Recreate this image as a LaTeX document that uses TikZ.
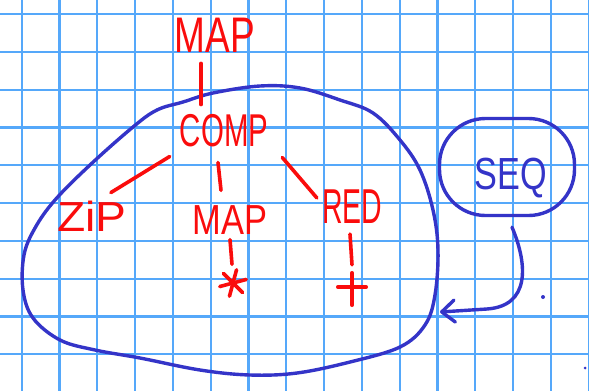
\documentclass[tikz,border=0pt]{standalone}
\usepackage{fontspec}
\usepackage{tikz}
\usetikzlibrary{arrows.meta}
\newfontfamily\handfont{Liberation Sans}
\definecolor{gridblue}{RGB}{85,168,250}
\definecolor{inkred}{RGB}{250,12,12}
\definecolor{inkblue}{RGB}{52,52,200}

\begin{document}
\begin{tikzpicture}[x=1pt,y=-1pt,
  gridline/.style={gridblue,line width=2.2pt},
  redink/.style={inkred,line width=3.6pt,line cap=round},
  blueink/.style={inkblue,line width=3.4pt,line cap=round,line join=round},
  word/.style={text=inkred,inner sep=0pt,font=\handfont\fontsize{#1}{#1}\selectfont}]
  \fill[white] (0,0) rectangle (589,391);
  \useasboundingbox (0,0) rectangle (589,391);
  % squared paper
  \foreach \i in {0,...,15} \draw[gridline] ({21.7+37.8*\i},0) -- ++(0,391);
  \foreach \j in {0,...,9} \draw[gridline] (0,{14+37.8*\j}) -- ++(589,0);

  % the big blob
  \draw[blueink] plot[smooth cycle,tension=0.6] coordinates {
    (157,110) (183,102) (213,93) (260,86) (300,88) (340,100) (373,113)
    (400,140) (420,170) (433,210) (438,250) (435,295) (425,325) (400,347)
    (350,362) (297,373) (250,375) (200,370) (140,358) (95,350) (60,340)
    (33,318) (23,290) (24,255) (35,228) (55,200) (90,165) (133,127)};
  \coordinate (blobr) at (440,312);

  % the tree
  \node[word=50,xscale=0.74] (map1) at (215,35) {MAP};
  \node[word=46,xscale=0.64] (comp) at (224,131) {COMP};
  \node[word=42,xscale=1.1] (zip) at (92,216) {ZiP};
  \node[word=42,xscale=0.82] (map2) at (230,220) {MAP};
  \node[word=49,xscale=0.58] (red) at (352,207) {RED};
  \node[circle,inner sep=0pt,minimum size=27pt] (ast) at (233,283) {};
  \node[inner sep=0pt,minimum width=28pt,minimum height=32pt] (plus) at (352,289) {};

  \draw[redink] ([xshift=-14pt,yshift=-11pt]map1.south) -- ([xshift=-23pt,yshift=10pt]comp.north);
  \draw[redink] ([xshift=-10pt,yshift=-9pt]comp.south west) -- ([xshift=-16pt,yshift=8pt]zip.north east);
  \draw[redink] ([xshift=-6pt,yshift=-15pt]comp.south) -- ([xshift=-9pt,yshift=15pt]map2.north);
  \draw[redink] ([xshift=14pt,yshift=-10pt]comp.south east) -- ([xshift=-5pt,yshift=-8pt]red.north west);
  \draw[redink] ([yshift=-5pt]map2.south) -- ([xshift=-1pt,yshift=5pt]ast.north);
  \draw[redink] ([xshift=-2pt,yshift=-10pt]red.south) -- ([yshift=8pt]plus.north);

  \draw[redink] (ast.15) -- (ast.195);
  \draw[redink] (ast.75) -- (ast.255);
  \draw[redink] (ast.135) -- (ast.315);
  \draw[redink] (plus.north) -- (plus.south);
  \draw[redink] ([yshift=2pt]plus.west) -- ([yshift=2pt]plus.east);

  % the seq bubble
  \node[draw=inkblue,line width=3.4pt,rounded corners=46pt,minimum width=135pt,minimum height=97pt] (seq) at (507,167) {};
  \node[text=inkblue,inner sep=0pt,xscale=0.76,font=\handfont\fontsize{45}{45}\selectfont] (seqtext) at (511,178) {SEQ};
  \draw[blueink,-{Straight Barb[length=13pt,width=22pt,round]}] ([xshift=5pt,yshift=-10pt]seq.south)
    .. controls (528,265) and (530,306) .. (487,309) -- (blobr);
  \fill[inkblue] (543,297) circle (2pt);
  \fill[inkblue] (585,368) circle (1.5pt);
\end{tikzpicture}
\end{document}
